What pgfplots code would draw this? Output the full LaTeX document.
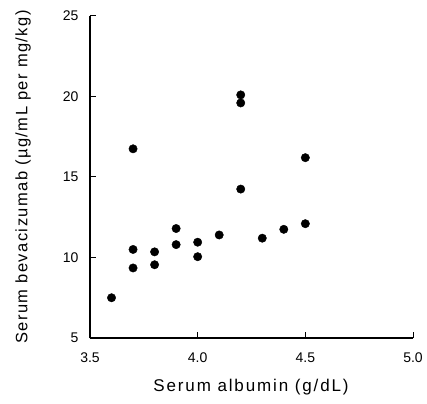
\documentclass[border=0pt]{standalone}
\usepackage{fontspec}
\setmainfont{Liberation Sans}
\newfontfamily\labelfont[LetterSpace=8.75]{Liberation Sans}
\newfontfamily\xlabelfont[LetterSpace=11]{Liberation Sans}
\usepackage{pgfplots}
\pgfplotsset{compat=1.18}

\begin{document}
\begin{tikzpicture}
\path[use as bounding box] (-90pt,-65pt) rectangle (337pt,338pt);
\begin{axis}[
  scale only axis, width=323pt, height=322pt,
  xmin=3.5, xmax=5.0, ymin=5, ymax=25,
  axis x line*=bottom, axis y line*=left,
  axis line style={-, line width=1.2pt},
  xtick={3.5,4.0,4.5,5.0}, ytick={5,10,15,20,25},
  tick align=inside, major tick length=6pt,
  tick style={line width=1pt, black},
  tick label style={font=\fontsize{14}{16}\selectfont},
  /pgf/number format/assume math mode=true,
  xticklabel style={yshift=-11pt, /pgf/number format/fixed, /pgf/number format/fixed zerofill, /pgf/number format/precision=1},
  yticklabel style={xshift=-8pt},
  xlabel={Serum albumin (g/dL)},
  ylabel={Serum bevacizumab (µg/mL per mg/kg)},
  every axis x label/.style={at={(axis description cs:0.5,0)}, xshift=-0.5pt, yshift=-49pt, anchor=center, font=\xlabelfont\fontsize{17}{19}\selectfont},
  every axis y label/.style={at={(axis description cs:0,0.5)}, xshift=-67pt, rotate=90, anchor=center, font=\labelfont\fontsize{16.5}{18}\selectfont},
]
\addplot[only marks, mark=*, mark size=4.2pt, black] coordinates {
  (3.6,7.5) (3.7,9.35) (3.7,10.5) (3.7,16.75)
  (3.8,9.55) (3.8,10.35) (3.9,10.8) (3.9,11.8)
  (4.0,10.05) (4.0,10.95) (4.1,11.4)
  (4.2,14.25) (4.2,19.6) (4.2,20.1)
  (4.3,11.2) (4.4,11.75) (4.5,12.1) (4.5,16.2)
};
\end{axis}
\end{tikzpicture}
\end{document}
